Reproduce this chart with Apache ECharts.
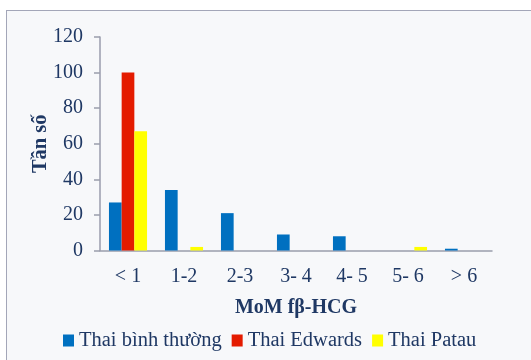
<!DOCTYPE html>
<html>
<head>
<meta charset="utf-8">
<script src="https://cdn.jsdelivr.net/npm/echarts@6/dist/echarts.min.js"></script>
<style>
  html, body { margin: 0; padding: 0; background: #ffffff; }
  #wrap { position: relative; width: 531px; height: 360px; overflow: hidden; background: #ffffff; }
  #frame { position: absolute; left: 6px; top: 10px; right: 0; bottom: 0;
           background: #f7f8fa; border-left: 1px solid #a3a6b8; border-top: 1px solid #a3a6b8; }
  #chart { position: absolute; left: 0; top: 0; width: 531px; height: 360px; }
</style>
</head>
<body>
<div id="wrap">
  <div id="frame"></div>
  <div id="chart"></div>
</div>
<script>
// MoM fβ-HCG bins and frequency per group
const categories = ['< 1', '1-2', '2-3', '3- 4', '4- 5', '5- 6', '> 6'];
const normalValues  = [27, 34, 21, 9, 8, 0, 1];
const edwardsValues = [100, 0, 0, 0, 0, 0, 0];
const patauValues   = [67, 2, 0, 0, 0, 2, 0];
const seriesNames = ['Thai bình thường', 'Thai Edwards', 'Thai Patau'];
const yTicks = { min: 0, max: 120, interval: 20 };

const textColor = '#1f3864';
const font = '"Liberation Serif", "Times New Roman", serif';
const axisColor = '#9a9dac';

const chart = echarts.init(document.getElementById('chart'), null, { renderer: 'canvas' });

chart.setOption({
  backgroundColor: 'transparent',
  animation: false,
  textStyle: { fontFamily: font, color: textColor },
  color: ['#0070c0', '#e41b00', '#ffff00'],
  grid: { left: 100, right: 39, top: 37, bottom: 109.5, containLabel: false },
  legend: {
    data: seriesNames,
    left: 63,
    top: 330,
    padding: 0,
    itemWidth: 11,
    itemHeight: 12,
    itemGap: 10,
    icon: 'rect',
    textStyle: { fontFamily: font, fontSize: 20.5, color: textColor }
  },
  xAxis: {
    type: 'category',
    data: categories,
    name: 'MoM fβ-HCG',
    nameLocation: 'middle',
    nameGap: 47,
    nameMoveOverlap: false,
    nameTextStyle: { fontFamily: font, fontSize: 20, fontWeight: 'bold', color: textColor },
    axisLine: { lineStyle: { color: axisColor, width: 1.5 } },
    axisTick: { show: false },
    axisLabel: { margin: 16, fontFamily: font, fontSize: 20, color: textColor }
  },
  yAxis: {
    type: 'value',
    min: yTicks.min,
    max: yTicks.max,
    interval: yTicks.interval,
    name: 'Tần số',
    nameLocation: 'middle',
    nameGap: 49,
    nameMoveOverlap: false,
    nameTextStyle: { fontFamily: font, fontSize: 20.5, fontWeight: 'bold', color: textColor },
    axisLine: { show: true, lineStyle: { color: axisColor, width: 1.5 } },
    axisTick: { show: true, length: 6, lineStyle: { color: axisColor, width: 1.5 } },
    splitLine: { show: false },
    axisLabel: { margin: 17, fontFamily: font, fontSize: 20, color: textColor }
  },
  series: [
    { name: seriesNames[0], type: 'bar', data: normalValues, barGap: '0%', barCategoryGap: '32%' },
    { name: seriesNames[1], type: 'bar', data: edwardsValues, barGap: '0%', barCategoryGap: '32%' },
    { name: seriesNames[2], type: 'bar', data: patauValues, barGap: '0%', barCategoryGap: '32%' }
  ]
});
</script>
</body>
</html>
